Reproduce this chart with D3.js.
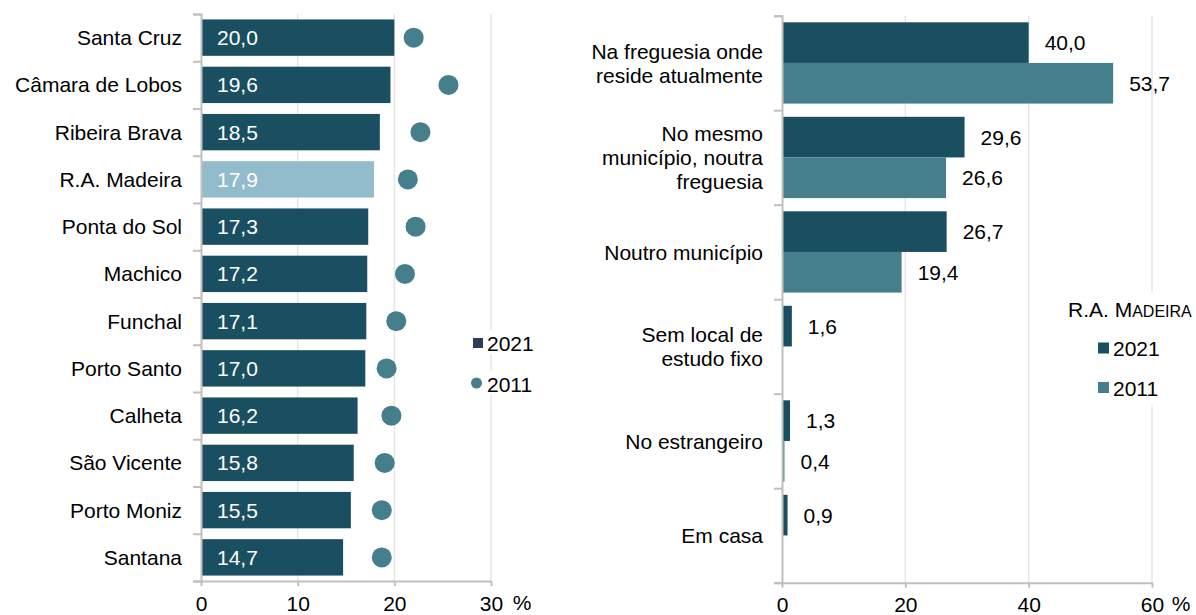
<!DOCTYPE html>
<html><head><meta charset="utf-8">
<script src="https://cdn.jsdelivr.net/npm/d3@7"></script>
<style>
body{margin:0;background:#fff;}
svg{display:block;font-family:"Liberation Sans",Arial,sans-serif;}
</style></head>
<body><svg id="c" width="1196" height="615"></svg>
<script>
// ---- Left chart data ----
const leftCategories = ["Santa Cruz","Câmara de Lobos","Ribeira Brava","R.A. Madeira","Ponta do Sol","Machico","Funchal","Porto Santo","Calheta","São Vicente","Porto Moniz","Santana"];
const left2021 = [20.0,19.6,18.5,17.9,17.3,17.2,17.1,17.0,16.2,15.8,15.5,14.7];
const left2011 = [22.0,25.6,22.7,21.4,22.2,21.1,20.2,19.2,19.7,19.0,18.7,18.7];
const leftTicks = [0,10,20,30];
const leftHighlight = "R.A. Madeira";

// ---- Right chart data ----
const rightCategories = [["Na freguesia onde","reside atualmente"],["No mesmo","município, noutra","freguesia"],["Noutro município"],["Sem local de","estudo fixo"],["No estrangeiro"],["Em casa"]];
const right2021 = [40.0,29.6,26.7,1.6,1.3,0.9];
const right2011 = [53.7,26.6,19.4,null,0.4,null];
const rightTicks = [0,20,40,60];
const seriesNames = ["2021","2011"];

const C_DARK = "#1a4f61", C_LIGHT = "#92bccb", C_MID = "#457f8c", C_LEG = "#2b3f56";
const AXIS = "#c0c0c0", GRID = "#e6e6e6";
const FS = 21;
const fmt = d3.formatLocale({decimal:",",thousands:".",grouping:[3],currency:["","€"]}).format(".1f");

const svg = d3.select("#c");

// ================= LEFT =================
{
  const x = d3.scaleLinear().domain([0,30]).range([201,491]);
  const y = d3.scaleBand().domain(leftCategories).range([14,581]).paddingInner(0.23).paddingOuter(0.115);
  const g = svg.append("g");
  g.selectAll("line.grid").data(leftTicks.slice(1)).join("line")
    .attr("x1",d=>x(d)).attr("x2",d=>x(d)).attr("y1",14).attr("y2",581)
    .attr("stroke",GRID).attr("stroke-width",1.5);
  g.selectAll("rect.bar").data(leftCategories).join("rect")
    .attr("x",x(0)).attr("y",d=>y(d)).attr("width",(d,i)=>x(left2021[i])-x(0)).attr("height",y.bandwidth())
    .attr("fill",d=>d===leftHighlight?C_LIGHT:C_DARK);
  g.selectAll("text.val").data(leftCategories).join("text")
    .attr("x",x(0)+16).attr("y",d=>y(d)+y.bandwidth()/2).attr("dy","0.36em")
    .attr("fill","#fff").attr("font-size",FS).text((d,i)=>fmt(left2021[i]));
  g.selectAll("circle.dot").data(leftCategories).join("circle")
    .attr("cx",(d,i)=>x(left2011[i])).attr("cy",d=>y(d)+y.bandwidth()/2).attr("r",10)
    .attr("fill",C_MID);
  const yAxis = d3.axisLeft(d3.scaleLinear().domain([0,12]).range([14,581])).tickValues(d3.range(13)).tickSize(8).tickFormat("");
  const ya = g.append("g").attr("transform",`translate(${x(0)},0)`).call(yAxis);
  ya.select(".domain").attr("stroke",AXIS).attr("stroke-width",2);
  ya.selectAll(".tick line").attr("stroke",AXIS).attr("stroke-width",2);
  g.selectAll("text.cat").data(leftCategories).join("text")
    .attr("x",182).attr("y",d=>y(d)+y.bandwidth()/2).attr("dy","0.36em").attr("text-anchor","end")
    .attr("font-size",FS).attr("fill","#000").text(d=>d);
  const xa = g.append("g").attr("transform","translate(0,581)")
    .call(d3.axisBottom(x).tickValues(leftTicks).tickSize(5).tickSizeOuter(0).tickPadding(10));
  xa.select(".domain").attr("stroke",AXIS).attr("stroke-width",2);
  xa.selectAll(".tick line").attr("stroke",AXIS).attr("stroke-width",2);
  xa.selectAll(".tick text").attr("font-size",FS).attr("fill","#000").attr("font-family","Liberation Sans, Arial, sans-serif");
  g.append("text").attr("x",522).attr("y",610).attr("text-anchor","middle").attr("font-size",FS).text("%");
  const lg = g.append("g");
  lg.append("rect").attr("x",470).attr("y",330).attr("width",70).attr("height",24).attr("fill","#fff");
  lg.append("rect").attr("x",470).attr("y",371).attr("width",70).attr("height",24).attr("fill","#fff");
  lg.append("rect").attr("x",473).attr("y",338).attr("width",10).attr("height",10).attr("fill",C_LEG);
  lg.append("text").attr("x",487).attr("y",343).attr("dy","0.36em").attr("font-size",FS).text(seriesNames[0]);
  lg.append("circle").attr("cx",476.5).attr("cy",383).attr("r",5.5).attr("fill",C_MID);
  lg.append("text").attr("x",487).attr("y",384).attr("dy","0.36em").attr("font-size",FS).text(seriesNames[1]);
}

// ================= RIGHT =================
{
  const x = d3.scaleLinear().domain([0,60]).range([782,1152]);
  const idx = d3.range(rightCategories.length);
  const y = d3.scaleBand().domain(idx).range([15.7,582.7]).paddingInner(0.14).paddingOuter(0.07);
  const ys = d3.scaleBand().domain(seriesNames).range([0,y.bandwidth()]);
  const vals = [right2021, right2011];
  const cols = [C_DARK, C_MID];
  const g = svg.append("g");
  g.selectAll("line.grid").data(rightTicks.slice(1)).join("line")
    .attr("x1",d=>x(d)).attr("x2",d=>x(d)).attr("y1",15.7).attr("y2",582.7)
    .attr("stroke",GRID).attr("stroke-width",1.5);
  seriesNames.forEach((s,si)=>{
    const data = idx.filter(i=>vals[si][i]!=null);
    g.selectAll("rect.b"+si).data(data).join("rect")
      .attr("x",x(0)).attr("y",i=>y(i)+ys(s)).attr("width",i=>x(vals[si][i])-x(0)).attr("height",ys.bandwidth())
      .attr("fill",cols[si]);
    g.selectAll("text.v"+si).data(data).join("text")
      .attr("x",i=>x(vals[si][i])+16).attr("y",i=>y(i)+ys(s)+ys.bandwidth()/2).attr("dy","0.36em")
      .attr("font-size",FS).attr("fill","#000").text(i=>fmt(vals[si][i]));
  });
  const yAxis = d3.axisLeft(d3.scaleLinear().domain([0,6]).range([15.7,582.7])).tickValues(d3.range(7)).tickSize(8).tickFormat("");
  const ya = g.append("g").attr("transform",`translate(${x(0)},0)`).call(yAxis);
  ya.select(".domain").attr("stroke",AXIS).attr("stroke-width",2);
  ya.selectAll(".tick line").attr("stroke",AXIS).attr("stroke-width",2);
  const lh = 24;
  idx.forEach(i=>{
    const lines = rightCategories[i];
    const cy = y(i)+y.bandwidth()/2;
    const t = g.append("text").attr("text-anchor","end").attr("font-size",FS).attr("fill","#000");
    lines.forEach((ln,k)=>{
      t.append("tspan").attr("x",763).attr("y",cy+(k-(lines.length-1)/2)*lh).attr("dy","0.36em").text(ln);
    });
  });
  const xa = g.append("g").attr("transform","translate(0,582.7)")
    .call(d3.axisBottom(x).tickValues(rightTicks).tickSize(5).tickSizeOuter(0).tickPadding(9));
  xa.select(".domain").attr("stroke",AXIS).attr("stroke-width",2);
  xa.selectAll(".tick line").attr("stroke",AXIS).attr("stroke-width",2);
  xa.selectAll(".tick text").attr("font-size",FS).attr("fill","#000").attr("font-family","Liberation Sans, Arial, sans-serif");
  g.append("text").attr("x",1181).attr("y",611).attr("text-anchor","middle").attr("font-size",FS).text("%");
  const lg = g.append("g");
  lg.append("rect").attr("x",1062).attr("y",292).attr("width",134).attr("height",113).attr("fill","#fff");
  const tt = lg.append("text").attr("x",1068).attr("y",317).attr("font-size",FS).attr("fill","#000");
  tt.append("tspan").text("R.A. M");
  tt.append("tspan").attr("font-size",16).text("ADEIRA");
  [0,1].forEach(k=>{
    const cy = 347.5 + k*39.5;
    lg.append("rect").attr("x",1098).attr("y",cy-5).attr("width",11).attr("height",11).attr("fill",cols[k]);
    lg.append("text").attr("x",1113).attr("y",cy+1).attr("dy","0.36em").attr("font-size",FS).text(seriesNames[k]);
  });
}
</script></body></html>
